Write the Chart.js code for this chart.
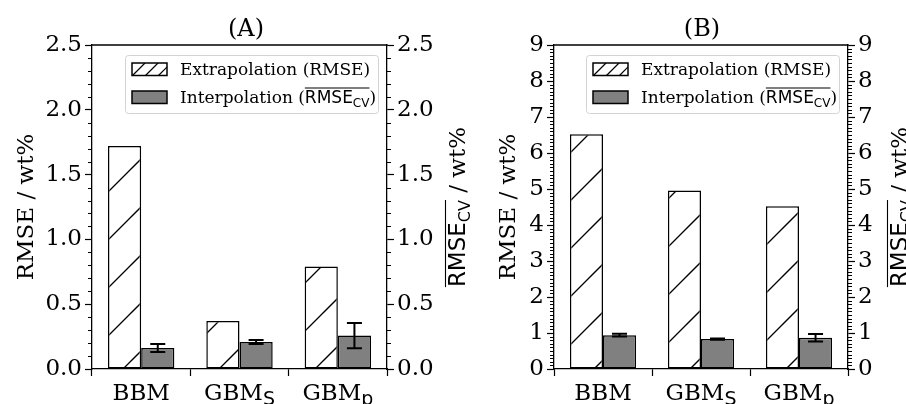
<!DOCTYPE html>
<html>
<head>
<meta charset="utf-8">
<script src="https://cdn.jsdelivr.net/npm/chart.js@4.4.0/dist/chart.umd.min.js"></script>
<style>
	body { margin: 0; background: #fff; width: 906px; height: 404px; overflow: hidden; position: relative; }
	#chartA { position: absolute; left: 0; top: 0; }
	#chartB { position: absolute; left: 453px; top: 0; }
</style>
</head>
<body>
<canvas id="chartA" width="480" height="404"></canvas>
<canvas id="chartB" width="453" height="404"></canvas>
<script>
// data
var modelNames = ["BBM", "GBM", "GBM"];
var modelSubs = ["", "S", "p"];
var panelTitles = ["(A)", "(B)"];

var extrapolationA = [1.72, 0.37, 0.79];
var interpolationA = [0.162, 0.208, 0.258];
var interpErrorA = [0.031, 0.015, 0.097];

var extrapolationB = [6.52, 4.96, 4.52];
var interpolationB = [0.94, 0.83, 0.87];
var interpErrorB = [0.04, 0.015, 0.105];

var axisMaxA = 2.5, majorStepA = 0.5, minorStepA = 0.1;
var axisMaxB = 9, majorStepB = 1, minorStepB = 0.1;

function serif(s) { return s + 'px "DejaVu Serif"'; }
function sans(s) { return s + 'px "DejaVu Sans"'; }

// draw a run of text pieces (for subscripts and overlines)
function drawRich(ctx, parts, x, y, align, overH) {
	var total = 0;
	parts.forEach(function (p) {
		ctx.font = p.font;
		p.w = ctx.measureText(p.text).width;
		total += p.w;
	});
	var cx = align === "center" ? x - total / 2 : x;
	var o0 = null, o1 = null;
	ctx.textAlign = "left";
	ctx.textBaseline = "alphabetic";
	ctx.fillStyle = "#000";
	parts.forEach(function (p) {
		ctx.font = p.font;
		ctx.fillText(p.text, cx, y + (p.dy || 0));
		if (p.over) {
			if (o0 === null) o0 = cx;
			o1 = cx + p.w;
		}
		cx += p.w;
	});
	if (o0 !== null) {
		ctx.strokeStyle = "#000";
		ctx.lineWidth = 1.1;
		ctx.beginPath();
		ctx.moveTo(o0, y - overH);
		ctx.lineTo(o1, y - overH);
		ctx.stroke();
	}
}

function hatch(ctx, k) {
	var c = document.createElement("canvas");
	c.width = 48; c.height = 48;
	var g = c.getContext("2d");
	g.fillStyle = "#fff";
	g.fillRect(0, 0, 48, 48);
	g.strokeStyle = "#000";
	g.lineWidth = 1.3;
	for (var s = k - 48; s <= k + 96; s += 48) {
		g.beginPath();
		g.moveTo(s + 10, -10);
		g.lineTo(-10, s + 10);
		g.stroke();
	}
	return ctx.createPattern(c, "repeat");
}

function cvLabel(size, subSize, dy) {
	return [
		{ text: "RMSE", font: sans(size), over: true },
		{ text: "CV", font: sans(subSize), dy: dy, over: true }
	];
}

var panelDecor = {
	id: "panelDecor",
	afterDatasetsDraw: function (chart, args, o) {
		var ctx = chart.ctx;
		var meta = chart.getDatasetMeta(1);
		var ys = chart.scales.y2;
		ctx.save();
		ctx.strokeStyle = "#000";
		ctx.lineWidth = 2;
		meta.data.forEach(function (bar, i) {
			var v = chart.data.datasets[1].data[i];
			var e = o.errors[i];
			var yt = ys.getPixelForValue(v + e), yb = ys.getPixelForValue(v - e);
			ctx.beginPath();
			ctx.moveTo(bar.x, yt); ctx.lineTo(bar.x, yb);
			ctx.moveTo(bar.x - 7.5, yt); ctx.lineTo(bar.x + 7.5, yt);
			ctx.moveTo(bar.x - 7.5, yb); ctx.lineTo(bar.x + 7.5, yb);
			ctx.stroke();
		});
		ctx.restore();
	},
	afterDraw: function (chart, args, o) {
		var ctx = chart.ctx;
		var a = chart.chartArea;
		ctx.save();
		// top spine
		ctx.strokeStyle = "#000";
		ctx.lineWidth = 1.3;
		ctx.beginPath();
		ctx.moveTo(a.left - 0.6, a.top);
		ctx.lineTo(a.right + 0.6, a.top);
		ctx.stroke();

		// minor ticks
		ctx.lineWidth = 1;
		["y", "y2"].forEach(function (id) {
			var sc = chart.scales[id];
			var n = Math.round(sc.max / o.minorStep);
			var per = Math.round(o.majorStep / o.minorStep);
			for (var j = 0; j <= n; j++) {
				if (j % per === 0) continue;
				var py = Math.round(sc.getPixelForValue(j * o.minorStep)) + 0.5;
				ctx.beginPath();
				if (id === "y") { ctx.moveTo(a.left - 4, py); ctx.lineTo(a.left, py); }
				else { ctx.moveTo(a.right, py); ctx.lineTo(a.right + 4, py); }
				ctx.stroke();
			}
		});

		// title
		ctx.font = serif(24);
		ctx.fillStyle = "#000";
		ctx.textAlign = "center";
		ctx.textBaseline = "alphabetic";
		ctx.fillText(o.title, o.titleX, 36);

		// x labels with subscripts
		var xs = chart.scales.x;
		modelNames.forEach(function (name, i) {
			var px = xs.getPixelForValue(i);
			var parts = [{ text: name, font: serif(23) }];
			if (modelSubs[i]) parts.push({ text: modelSubs[i], font: sans(19), dy: 5 });
			drawRich(ctx, parts, px, 400, "center", 0);
		});

		// axis titles, rotated
		function vtitle(parts, bx, overH) {
			ctx.save();
			ctx.translate(bx, (a.top + a.bottom) / 2);
			ctx.rotate(-Math.PI / 2);
			drawRich(ctx, parts, 0, 0, "center", overH);
			ctx.restore();
		}
		vtitle([{ text: "RMSE / wt%", font: serif(23) }], o.leftTitleX, 0);
		vtitle(cvLabel(23, 16, 5).concat([{ text: " / wt%", font: serif(23) }]), o.rightTitleX, 19.5);

		// legend
		var bx = a.right - 262, by = a.top + 10, bw = 253, bh = 58;
		ctx.fillStyle = "rgba(255,255,255,0.8)";
		ctx.strokeStyle = "#d3d3d3";
		ctx.lineWidth = 1;
		ctx.beginPath();
		ctx.roundRect(bx + 0.5, by + 0.5, bw, bh, 3);
		ctx.fill();
		ctx.stroke();

		var hx = bx + 7, hw = 35, hh = 12.5;
		var rows = [by + 8, by + 36];
		// hatched handle
		ctx.save();
		ctx.fillStyle = "#fff";
		ctx.fillRect(hx, rows[0], hw, hh);
		ctx.beginPath();
		ctx.rect(hx, rows[0], hw, hh);
		ctx.clip();
		ctx.strokeStyle = "#000";
		ctx.lineWidth = 1.2;
		for (var s = -hh; s < hw + hh; s += 13) {
			ctx.beginPath();
			ctx.moveTo(hx + s, rows[0] + hh);
			ctx.lineTo(hx + s + hh, rows[0]);
			ctx.stroke();
		}
		ctx.restore();
		ctx.strokeStyle = "#000";
		ctx.lineWidth = 1.5;
		ctx.strokeRect(hx, rows[0], hw, hh);
		ctx.fillStyle = "#808080";
		ctx.fillRect(hx, rows[1], hw, hh);
		ctx.strokeRect(hx, rows[1], hw, hh);

		drawRich(ctx, [{ text: chart.data.datasets[0].label, font: serif(17) }],
			bx + 55, rows[0] + 12, "left", 0);
		drawRich(ctx, [{ text: "Interpolation (", font: serif(17) }]
			.concat(cvLabel(17, 12, 4))
			.concat([{ text: ")", font: serif(17) }]),
			bx + 55, rows[1] + 12, "left", 15);
		ctx.restore();
	}
};

function makePanel(id, extrap, interp, errs, yMax, majorStep, minorStep, opts) {
	var canvas = document.getElementById(id);
	var ctx = canvas.getContext("2d");
	var tickFmt = function (v) { return majorStep < 1 ? v.toFixed(1) : String(v); };
	var yAxis = function (pos, w) {
		return {
			position: pos,
			min: 0,
			max: yMax,
			afterFit: function (s) { s.width = w; },
			ticks: {
				stepSize: majorStep,
				color: "#000",
				font: { family: "DejaVu Serif", size: 23 },
				padding: 3,
				callback: tickFmt
			},
			grid: { drawOnChartArea: false, tickLength: 7, tickColor: "#000", tickWidth: 1.2 },
			border: { display: true, color: "#000", width: 1.3 }
		};
	};
	return new Chart(canvas, {
		type: "bar",
		data: {
			labels: modelNames,
			datasets: [
				{
					label: "Extrapolation (RMSE)",
					data: extrap,
					yAxisID: "y",
					backgroundColor: hatch(ctx, opts.hatchOffset),
					borderColor: "#000",
					borderWidth: 1.5,
					borderSkipped: false
				},
				{
					label: "Interpolation (RMSE CV)",
					data: interp,
					yAxisID: "y2",
					backgroundColor: "#808080",
					borderColor: "#000",
					borderWidth: 1.5,
					borderSkipped: false
				}
			]
		},
		options: {
			responsive: false,
			animation: false,
			categoryPercentage: 0.675,
			barPercentage: 1.0,
			layout: { padding: { top: 45, left: 0, right: 0, bottom: 0 } },
			plugins: {
				legend: { display: false },
				tooltip: { enabled: false },
				panelDecor: {
					errors: errs,
					minorStep: minorStep,
					majorStep: majorStep,
					title: opts.title,
					titleX: opts.titleX,
					leftTitleX: opts.leftTitleX,
					rightTitleX: opts.rightTitleX
				}
			},
			scales: {
				x: {
					afterFit: function (s) { s.height = 35; },
					ticks: { callback: function () { return ""; } },
					grid: { drawOnChartArea: false, tickLength: 7, tickColor: "#000", tickWidth: 1.2 },
					border: { display: true, color: "#000", width: 1.3 }
				},
				y: yAxis("left", opts.leftW),
				y2: yAxis("right", opts.rightW)
			}
		},
		plugins: [panelDecor]
	});
}

makePanel("chartA", extrapolationA, interpolationA, interpErrorA, axisMaxA, majorStepA, minorStepA, {
	hatchOffset: 12, title: panelTitles[0], titleX: 246, leftTitleX: 33, rightTitleX: 465, leftW: 92, rightW: 93
});
makePanel("chartB", extrapolationB, interpolationB, interpErrorB, axisMaxB, majorStepB, minorStepB, {
	hatchOffset: 30, title: panelTitles[1], titleX: 249, leftTitleX: 62, rightTitleX: 454, leftW: 101, rightW: 58
});
</script>
</body>
</html>
